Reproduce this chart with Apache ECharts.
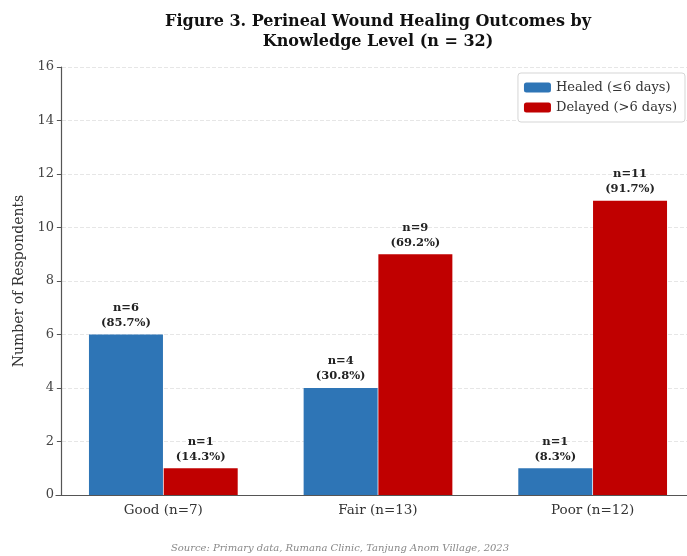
<!DOCTYPE html>
<html>
<head>
<meta charset="utf-8">
<script src="https://cdn.jsdelivr.net/npm/echarts@6/dist/echarts.min.js"></script>
<style>
  html, body { margin: 0; padding: 0; background: #fff; overflow: hidden; }
  /* the canvas is a little wider than the window so the plot runs off the right edge */
  #chart { width: 700px; height: 556px; }
</style>
</head>
<body>
<div id="chart"></div>
<script>
// Knowledge level groups and wound healing counts
const categories = ['Good (n=7)', 'Fair (n=13)', 'Poor (n=12)'];
const healed = [6, 4, 1];
const delayed = [1, 9, 11];
const healedPct = ['85.7%', '30.8%', '8.3%'];
const delayedPct = ['14.3%', '69.2%', '91.7%'];
const yTicks = [0, 2, 4, 6, 8, 10, 12, 14, 16];

const SERIF = '"DejaVu Serif", serif';

function countLabel(pcts) {
  return p => 'n=' + p.value + '\n(' + pcts[p.dataIndex] + ')';
}

const chart = echarts.init(document.getElementById('chart'), null, { renderer: 'canvas' });

chart.setOption({
  animation: false,
  backgroundColor: '#ffffff',
  textStyle: { fontFamily: SERIF },
  grid: { left: 56, right: 0, top: 67, bottom: 61, containLabel: false },
  legend: {
    orient: 'vertical',
    right: 15,
    top: 73,
    itemWidth: 27,
    itemHeight: 10,
    itemGap: 7,
    padding: [8, 8, 8, 6],
    borderColor: '#d5d5d5',
    borderWidth: 1,
    borderRadius: 3,
    backgroundColor: '#ffffff',
    textStyle: { fontFamily: SERIF, fontSize: 13, color: '#333' },
    data: ['Healed (≤6 days)', 'Delayed (>6 days)']
  },
  xAxis: {
    type: 'category',
    data: categories,
    axisLine: { lineStyle: { color: '#555', width: 1.2 } },
    axisTick: { alignWithLabel: true, length: 4, lineStyle: { color: '#555' } },
    axisLabel: { fontFamily: SERIF, fontSize: 13.5, color: '#333', margin: 8 }
  },
  yAxis: {
    type: 'value',
    min: 0,
    max: 16,
    interval: 2,
    offset: -5,
    name: 'Number of Respondents',
    nameLocation: 'middle',
    nameGap: 34,
    nameTextStyle: { fontFamily: SERIF, fontSize: 14, color: '#333' },
    axisLine: { show: true, lineStyle: { color: '#555', width: 1.2 } },
    axisTick: { show: true, length: 4, lineStyle: { color: '#555' } },
    axisLabel: {
      fontFamily: SERIF, fontSize: 13, color: '#444', margin: 7,
      customValues: yTicks
    },
    splitLine: { show: true, lineStyle: { color: '#e6e6e6', type: 'dashed', width: 1 } }
  },
  series: [
    {
      name: 'Healed (≤6 days)',
      type: 'bar',
      data: healed,
      barWidth: 74,
      barGap: '1%',
      itemStyle: { color: '#2e75b6' },
      label: {
        show: true,
        position: 'top',
        distance: 4,
        formatter: countLabel(healedPct),
        fontFamily: SERIF,
        fontWeight: 'bold',
        fontSize: 11.5,
        lineHeight: 15,
        color: '#222'
      }
    },
    {
      name: 'Delayed (>6 days)',
      type: 'bar',
      data: delayed,
      barWidth: 74,
      itemStyle: { color: '#c00000' },
      label: {
        show: true,
        position: 'top',
        distance: 4,
        formatter: countLabel(delayedPct),
        fontFamily: SERIF,
        fontWeight: 'bold',
        fontSize: 11.5,
        lineHeight: 15,
        color: '#222'
      }
    }
  ],
  graphic: [
    {
      type: 'text',
      x: 378, y: 22,
      style: {
        text: 'Figure 3. Perineal Wound Healing Outcomes by',
        font: 'bold 16px "DejaVu Serif", serif',
        fill: '#111',
        textAlign: 'center',
        textVerticalAlign: 'middle'
      }
    },
    {
      type: 'text',
      x: 378, y: 42,
      style: {
        text: 'Knowledge Level (n = 32)',
        font: 'bold 16px "DejaVu Serif", serif',
        fill: '#111',
        textAlign: 'center',
        textVerticalAlign: 'middle'
      }
    },
    {
      type: 'text',
      x: 340, y: 548,
      style: {
        text: 'Source: Primary data, Rumana Clinic, Tanjung Anom Village, 2023',
        font: 'italic 10px "DejaVu Serif", serif',
        fill: '#888',
        textAlign: 'center',
        textVerticalAlign: 'middle'
      }
    }
  ]
});
</script>
</body>
</html>
